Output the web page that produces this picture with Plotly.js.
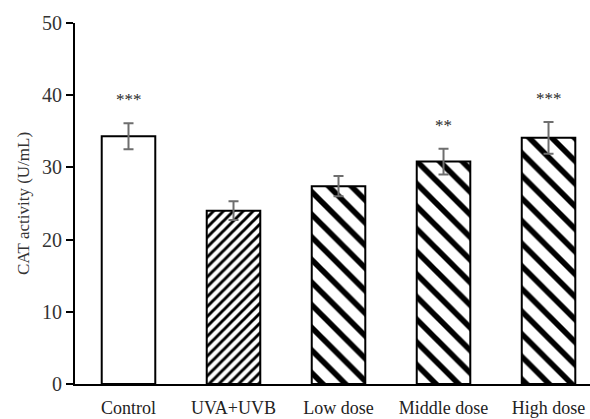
<!DOCTYPE html>
<html>
<head>
<meta charset="utf-8">
<script src="https://cdn.plot.ly/plotly-3.0.1.min.js"></script>
<style>html,body{margin:0;padding:0;background:#fff;}#chart{width:590px;height:419px;}</style>
</head>
<body>
<div id="chart"></div>
<script>
var categories = ["Control", "UVA+UVB", "Low dose", "Middle dose", "High dose"];
var values = [34.3, 24.0, 27.4, 30.8, 34.1];
var errors = [1.8, 1.3, 1.4, 1.8, 2.2];
var sigLabels = ["***", "", "", "**", "***"];
var patternShapes = ["", "/", "\\", "\\", "\\"];
var tickVals = [0, 10, 20, 30, 40, 50];

var patternSizes = patternShapes.map(function(s){ return s === "/" ? 7 : 16; });
var patternSolid = patternShapes.map(function(s){ return s === "/" ? 0.42 : 0.35; });

var trace = {
  type: "bar",
  x: categories,
  y: values,
  width: 0.51,
  marker: {
    color: "white",
    line: {color: "black", width: 2},
    pattern: {
      shape: patternShapes,
      size: patternSizes,
      solidity: patternSolid,
      fgcolor: "black",
      bgcolor: "white",
      fillmode: "replace"
    }
  },
  error_y: {type: "data", array: errors, visible: true, color: "#6e6e6e", thickness: 2, width: 5},
  hoverinfo: "none"
};

var annotations = [];
categories.forEach(function(c, i){
  if (sigLabels[i]) {
    annotations.push({
      x: c, y: values[i] + errors[i], xref: "x", yref: "y",
      text: sigLabels[i], showarrow: false, yanchor: "bottom", yshift: 12,
      font: {family: "Liberation Serif", size: 17, color: "#2a2a2a"}
    });
  }
});

var layout = {
  width: 590, height: 419,
  margin: {l: 75, r: 0, t: 23, b: 35},
  paper_bgcolor: "white", plot_bgcolor: "white",
  showlegend: false,
  font: {family: "Liberation Serif", color: "#222"},
  xaxis: {
    type: "category",
    range: [-0.5095, 4.395],
    showline: true, linecolor: "black", linewidth: 2,
    ticks: "", showgrid: false, zeroline: false,
    tickfont: {family: "Liberation Serif", size: 18, color: "#222"},
    ticklabelstandoff: 6
  },
  yaxis: {
    range: [0, 50],
    tickvals: tickVals,
    ticktext: tickVals.map(String),
    showline: true, linecolor: "black", linewidth: 2,
    ticks: "outside", ticklen: 7, tickwidth: 2, tickcolor: "black",
    showgrid: false, zeroline: false,
    tickfont: {family: "Liberation Serif", size: 20, color: "#333"},
    title: {text: "CAT activity (U/mL)", font: {family: "Liberation Serif", size: 17, color: "#333"}, standoff: 8}
  },
  annotations: annotations
};

Plotly.newPlot("chart", [trace], layout, {staticPlot: true, displayModeBar: false});
</script>
</body>
</html>
